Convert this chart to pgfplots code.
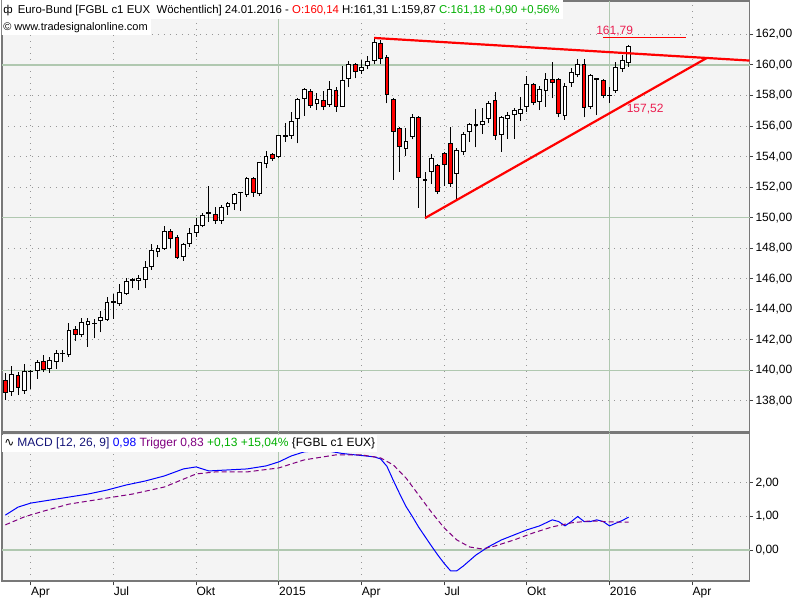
\documentclass[border=0pt]{standalone}
\usepackage{fontspec}
\setmainfont{Liberation Sans}
\newfontfamily\djv{DejaVu Sans}
\usepackage{pgfplots}
\usepackage{pgfplotstable}
\pgfplotsset{compat=1.18}

\definecolor{bg}{RGB}{244,244,244}
\definecolor{gridg}{RGB}{176,200,176}
\definecolor{dotg}{RGB}{150,150,150}
\definecolor{frameg}{RGB}{120,120,120}
\definecolor{cred}{RGB}{255,0,0}
\definecolor{lblred}{RGB}{235,30,80}
\definecolor{hgreen}{RGB}{0,176,0}
\definecolor{navy}{RGB}{20,20,120}
\definecolor{mblue}{RGB}{0,0,255}
\definecolor{mpurple}{RGB}{128,0,128}

\newcommand\fs{\fontsize{6}{7}\selectfont}

% weekly candles, x = week index (0 = 07.03.2014)
\pgfplotstableread{
x o h l c
0 139.35 139.81 138.06 138.54
1 138.61 140.29 138.35 139.74
2 139.70 139.92 138.39 138.87
3 138.67 140.42 138.46 139.94
4 139.90 140.03 138.78 139.94
5 140.00 140.68 139.44 140.53
6 140.57 141.01 139.92 140.07
7 140.11 140.90 139.85 140.66
8 140.57 141.34 140.11 141.12
9 141.08 141.34 140.57 141.12
10 141.03 143.08 140.90 142.62
11 142.69 142.91 141.95 142.36
12 142.36 143.45 142.17 143.15
13 143.02 143.45 141.55 143.21
14 143.06 143.34 142.10 143.10
15 143.24 143.91 142.49 143.48
16 143.34 144.79 143.26 144.48
17 144.46 145.00 143.39 144.50
18 144.39 145.64 144.22 145.11
19 145.03 146.07 144.94 145.83
20 145.90 146.07 145.38 145.94
21 145.90 146.25 145.27 146.05
22 145.97 147.19 145.38 146.75
23 146.79 148.28 146.58 147.86
24 147.80 148.21 147.41 147.99
25 147.99 149.46 147.89 149.11
26 149.11 149.26 147.99 148.65
27 148.72 148.87 147.32 147.38
28 147.45 148.32 147.19 148.24
29 148.32 149.31 148.10 148.98
30 149.04 149.96 148.76 149.50
31 149.50 150.29 149.37 150.13
32 150.25 152.08 149.74 150.31
33 150.20 150.68 149.59 149.81
34 149.81 150.81 149.59 150.68
35 150.72 151.05 150.18 150.94
36 150.94 151.60 150.50 151.49
37 151.62 151.71 150.46 151.66
38 151.55 152.64 151.38 152.54
39 152.54 152.64 151.38 151.66
40 151.57 153.67 151.44 153.62
41 153.56 154.37 153.23 154.02
42 154.15 154.26 153.73 153.89
43 154.00 155.44 153.93 155.39
44 155.35 156.18 154.98 155.39
45 155.39 156.90 155.17 156.33
46 156.50 157.82 154.87 157.75
47 157.82 158.51 156.66 158.40
48 158.27 158.43 157.20 157.36
49 157.49 158.14 157.05 157.75
50 157.68 158.30 157.05 157.29
51 157.40 158.95 157.27 158.40
52 158.36 158.53 156.94 157.29
53 157.29 159.93 157.27 158.99
54 159.12 160.26 158.53 160.00
55 160.00 160.11 159.12 159.58
56 159.65 160.33 159.41 159.84
57 159.98 160.59 159.71 160.24
58 160.30 161.79 160.04 161.48
59 161.42 161.64 160.04 160.43
60 160.50 160.65 157.49 158.08
61 157.75 157.82 152.47 155.65
62 155.83 155.92 153.01 154.67
63 154.54 155.85 154.06 155.00
64 155.30 156.79 155.13 156.57
65 156.57 156.66 150.65 152.64
66 152.45 152.97 149.91 152.49
67 153.03 154.17 152.20 153.89
68 153.45 153.52 151.55 151.70
69 154.21 154.32 152.07 153.47
70 154.87 155.96 152.03 152.23
71 152.88 154.58 151.20 154.43
72 154.34 155.63 154.10 155.46
73 155.65 156.18 154.98 156.11
74 156.07 157.14 154.61 156.11
75 156.11 157.16 155.48 156.31
76 156.50 157.66 156.18 157.49
77 157.66 158.23 155.09 155.37
78 155.46 156.66 154.32 156.57
79 156.50 156.94 155.15 156.72
80 156.79 157.16 155.15 157.01
81 156.83 157.92 156.35 157.09
82 157.29 159.30 156.94 158.75
83 158.69 158.84 157.38 157.55
84 157.60 158.62 157.05 158.40
85 158.32 159.50 157.27 159.06
86 159.02 160.22 157.82 158.86
87 159.02 159.12 156.57 156.83
88 156.72 158.80 156.40 158.62
89 158.86 159.78 158.58 159.52
90 159.39 160.37 159.19 160.06
91 160.06 160.37 156.57 157.23
92 157.29 159.39 157.09 159.34
93 159.06 159.12 156.72 159.10
94 158.97 159.06 157.82 158.03
95 157.97 158.58 157.53 158.01
96 158.36 160.22 158.19 159.85
97 159.78 160.65 159.56 160.28
98 160.14 161.31 159.87 161.18
}\candles

\pgfplotstableread{
x m
0 1.04
2 1.28
4 1.40
7 1.49
10 1.58
13 1.67
16 1.79
19 1.94
22 2.06
25 2.21
28 2.42
30 2.48
32 2.36
35 2.39
38 2.42
41 2.51
43 2.63
45 2.81
47 2.93
50 2.98
53 2.88
56 2.82
58 2.78
59 2.72
60 2.50
61 2.08
62 1.68
63 1.30
64 1.00
65 0.68
66 0.40
67 0.12
68 -0.15
69 -0.40
70 -0.62
71 -0.62
72 -0.48
74 -0.15
76 0.10
78 0.30
80 0.45
82 0.60
84 0.72
86 0.90
87 0.85
88 0.72
89 0.85
90 1.00
91 0.85
92 0.85
93 0.90
94 0.85
95 0.72
96 0.80
97 0.88
98 0.98
}\macd

\pgfplotstableread{
x t
0 0.75
3 0.99
6 1.16
10 1.37
15 1.52
20 1.67
25 1.88
30 2.27
33 2.33
38 2.33
43 2.45
47 2.69
52 2.84
56 2.84
59 2.75
61 2.54
63 2.15
65 1.64
67 1.13
69 0.66
71 0.30
73 0.09
75 0.03
77 0.12
80 0.30
83 0.51
86 0.69
89 0.81
92 0.87
95 0.84
98 0.83
}\trigger

\pgfplotsset{
  panel/.style={
    scale only axis, width=373.75pt, xmin=-0.52, xmax=117.01,
    font=\fs, axis line style={frameg, line width=0.6pt},
    axis background/.style={fill=bg},
    tick align=outside, major tick length=1.8pt,
    tick style={black!75, line width=0.5pt},
    ytick pos=right, yticklabel pos=right,
    xtick pos=bottom,
    grid=major,
    major grid style={dotg, line width=0.5pt, dash pattern=on 0.5pt off 2.5pt},
    xtick={4,17,30,56,69,82,108},
    extra x ticks={43,95},
    extra x tick style={major grid style={gridg, solid, line width=0.6pt}},
    extra y tick style={major grid style={gridg, solid, line width=0.6pt}},
    /pgf/number format/assume math mode=true,
    /pgf/number format/fixed, /pgf/number format/fixed zerofill,
    /pgf/number format/precision=2, /pgf/number format/use comma,
    yticklabel style={font=\fs, inner sep=1pt},
  },
  overlay/.style={
    scale only axis, width=373.75pt, height=215.5pt,
    xmin=-0.52, xmax=117.01, ymin=135.97, ymax=164.19,
    at={(1pt,299.5pt)}, anchor=north west, hide axis,
  },
}

\begin{document}
\begin{tikzpicture}
\path[fill=white, use as bounding box] (0,0) rectangle (400pt,300pt);

% price panel: background, grid, wicks
\begin{axis}[panel, at={(1pt,299.5pt)}, anchor=north west, height=215.5pt,
  ymin=135.97, ymax=164.19,
  ytick={138,142,144,146,148,152,154,156,158,162},
  extra y ticks={140,150,160},
  xticklabels={}, extra x tick labels={},
  xtick style={draw=none}]
\addplot[draw=none, mark=none, forget plot,
  error bars/.cd, y dir=plus, y explicit, error mark=none,
  error bar style={draw=black, solid, line width=0.5pt}]
  table[x=x, y=l, y error plus expr=\thisrow{h}-\thisrow{l}] {\candles};
\end{axis}

% candle bodies
\begin{axis}[overlay, ybar stacked, bar width=1.9pt]
\addplot[draw=none, fill=none] table[x=x, y expr={min(\thisrow{o},\thisrow{c})}] {\candles};
\addplot[draw=black, fill=white, line width=0.5pt] table[x=x, y expr={max(\thisrow{c}-\thisrow{o},0)}] {\candles};
\addplot[draw=black, fill=cred, line width=0.5pt] table[x=x, y expr={max(\thisrow{o}-\thisrow{c},0)}] {\candles};
\end{axis}

% trend lines, labels, header
\begin{axis}[overlay]
\addplot[cred, line width=1.1pt] coordinates {(58,161.77) (117.01,160.29)};
\addplot[cred, line width=1.1pt] coordinates {(66,149.98) (110.3,160.46)};
\addplot[cred, line width=0.5pt] coordinates {(94,161.82) (107,161.82)};
\node[font=\fs, text=lblred, anchor=base] at (axis cs:95.8,162.02) {161,79};
\node[font=\fs, text=lblred, anchor=base] at (axis cs:100.6,156.9) {157,52};
\node[font=\fontsize{5.7}{7}\selectfont, anchor=north west, fill=white, inner xsep=1.5pt, inner ysep=1.8pt,
  text height=4.6pt, text depth=1.3pt, xshift=-1pt, yshift=0.5pt] at (rel axis cs:0,1)
  {ф\hspace{2.5pt}Euro-Bund [FGBL c1 EUX\ \ Wöchentlich] 24.01.2016 - \textcolor{cred}{O:160,14} H:161,31 L:159,87 \textcolor{hgreen}{C:161,18 +0,90 +0,56\%}\hspace{1pt}};
\node[font=\fontsize{5.5}{7}\selectfont, anchor=north west, fill=white, inner xsep=1.5pt, inner ysep=0.9pt,
  text height=4.6pt, text depth=1.3pt, xshift=-1pt, yshift=-9pt] at (rel axis cs:0,1)
  {©\hspace{1.5pt}www.tradesignalonline.com};
\node[font=\fs, anchor=north west, xshift=2pt, yshift=-2.5pt] at (rel axis cs:1,1) {€/EUR};
\end{axis}

% MACD panel
\begin{axis}[panel, at={(1pt,83.5pt)}, anchor=north west, height=74pt,
  ymin=-0.925, ymax=3.4925,
  ytick={1,2}, extra y ticks={0},
  xticklabels={Apr,Jul,Okt,Apr,Jul,Okt,Apr},
  extra x tick labels={2015,2016},
  xticklabel style={font=\fs, anchor=north west, xshift=-1pt, inner sep=1pt},
  xtick style={/pgfplots/major tick length=2.2pt}]
\addplot[mblue, line width=0.5pt] table[x=x, y=m] {\macd};
\addplot[mpurple, line width=0.5pt, dash pattern=on 2.5pt off 1.5pt] table[x=x, y=t] {\trigger};
\node[font=\fs, anchor=north west, fill=white, inner xsep=1pt, inner ysep=1.2pt,
  text height=4.6pt, text depth=1.3pt, yshift=-1pt] at (rel axis cs:0,1)
  {{\djv ∿}\hspace{1.5pt}\textcolor{navy}{MACD [12, 26, 9]} \textcolor{mblue}{0,98} \textcolor{mpurple}{Trigger 0,83} \textcolor{hgreen}{+0,13 +15,04\%} \{FGBL c1 EUX\}};
\node[font=\fs, anchor=north west, xshift=2pt, yshift=-3pt] at (rel axis cs:1,1) {MACD};
\end{axis}
\end{tikzpicture}
\end{document}
